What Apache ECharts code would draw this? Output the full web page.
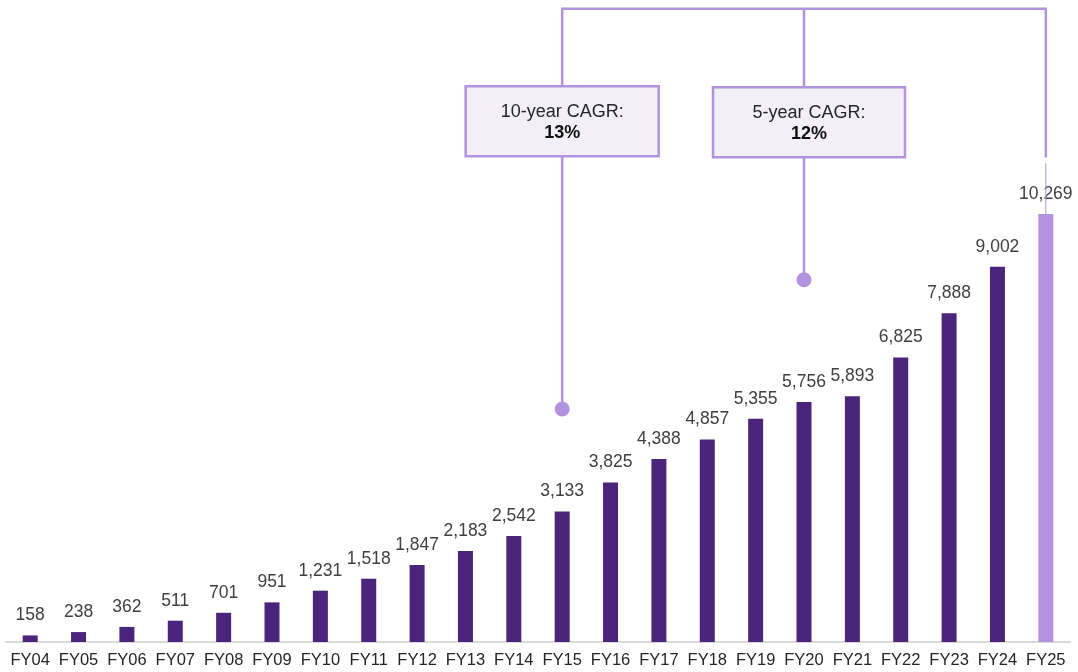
<!DOCTYPE html>
<html>
<head>
<meta charset="utf-8">
<script src="https://cdn.jsdelivr.net/npm/echarts@6/dist/echarts.min.js"></script>
<style>
html,body{margin:0;padding:0;background:#fff;}
#chart{width:1078px;height:672px;}
</style>
</head>
<body>
<div id="chart"></div>
<script>
const categories = ['FY04','FY05','FY06','FY07','FY08','FY09','FY10','FY11','FY12','FY13','FY14','FY15','FY16','FY17','FY18','FY19','FY20','FY21','FY22','FY23','FY24','FY25'];
const values = [158,238,362,511,701,951,1231,1518,1847,2183,2542,3133,3825,4388,4857,5355,5756,5893,6825,7888,9002,10269];
const cagrLabels = ['10-year CAGR:','5-year CAGR:'];
const cagrValues = ['13%','12%'];
const cagrFrom = ['FY15','FY20'];
const cagrDot = [5590, 8690];
const cagrTo = 'FY25';

const DARK = '#4B257B';
const LIGHT = '#B393DF';
const FONT = '"Liberation Sans", Arial, sans-serif';

const chart = echarts.init(document.getElementById('chart'), null, {renderer:'canvas'});
chart.setOption({
  animation:false,
  backgroundColor:'#fff',
  grid:{left:6, right:8, top:0, bottom:30, containLabel:false},
  xAxis:{
    type:'category', data:categories,
    axisLine:{lineStyle:{color:'#D9D9D9', width:2}},
    axisTick:{show:false},
    axisLabel:{interval:0, color:'#262626', fontSize:16.5, fontFamily:FONT, margin:10}
  },
  yAxis:{type:'value', min:0, max:15400, show:false, splitLine:{show:false}},
  series:[{
    type:'bar', barWidth:15,
    data: values.map((v,i)=>({value:v, itemStyle:{color: i===values.length-1 ? LIGHT : DARK}})),
    label:{show:true, position:'top', distance:11, color:'#404040', fontSize:17.5, fontFamily:FONT,
      formatter:p=>p.value.toLocaleString('en-US')}
  }]
});

function px(cat, val){ return chart.convertToPixel({xAxisIndex:0, yAxisIndex:0}, [cat, val]); }

const topVal = 15190, boxTopVal = 13330, boxBotVal = 11650;
const lineStyle = {stroke:LIGHT, lineWidth:2.5};
const g = [];
const topY = px(cagrTo, topVal)[1];
const xs = cagrFrom.map(c=>px(c,0)[0]);
const xEnd = px(cagrTo,0)[0];
const boxBot = px(cagrTo, boxBotVal)[1];
g.push({type:'line', shape:{x1:xs[0]-1, y1:topY, x2:xEnd+1, y2:topY}, style:lineStyle, z:10});
g.push({type:'line', shape:{x1:xEnd, y1:topY, x2:xEnd, y2:boxBot+1}, style:lineStyle, z:10});
const barTopY = px(cagrTo, values[values.length-1])[1];
g.push({type:'line', shape:{x1:xEnd, y1:boxBot+7, x2:xEnd, y2:barTopY}, style:{stroke:LIGHT, lineWidth:1}, z:10});
const boxW = [193, 192];
const boxOff = [0, 5];
cagrFrom.forEach((c,i)=>{
  const x = xs[i];
  const dotY = px(c, cagrDot[i])[1];
  const bt = px(c, boxTopVal + (i===1? -20:0))[1];
  const bb = px(c, boxBotVal - (i===1? 20:0))[1];
  g.push({type:'line', shape:{x1:x, y1:topY, x2:x, y2:bt}, style:lineStyle, z:10});
  g.push({type:'line', shape:{x1:x, y1:bb, x2:x, y2:dotY}, style:lineStyle, z:10});
  g.push({type:'circle', shape:{cx:x, cy:dotY, r:7.5}, style:{fill:LIGHT}, z:11});
  const bx = x + boxOff[i] - boxW[i]/2;
  g.push({type:'rect', shape:{x:bx, y:bt, width:boxW[i], height:bb-bt}, style:{fill:'#F3EFF9', stroke:LIGHT, lineWidth:2.5}, z:12});
  const cx = bx + boxW[i]/2, cy = (bt+bb)/2;
  g.push({type:'text', x:cx, y:cy-9, style:{text:cagrLabels[i], fill:'#262626', font:'18px '+FONT, align:'center', verticalAlign:'middle'}, z:13});
  g.push({type:'text', x:cx, y:cy+12, style:{text:cagrValues[i], fill:'#111', font:'bold 18px '+FONT, align:'center', verticalAlign:'middle'}, z:13});
});
chart.setOption({graphic:g});
</script>
</body>
</html>
